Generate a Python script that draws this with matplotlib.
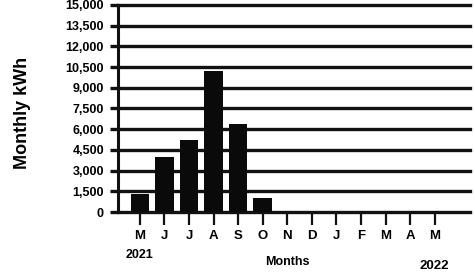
import matplotlib.pyplot as plt
from matplotlib import transforms

months = ["M", "J", "J", "A", "S", "O", "N", "D", "J", "F", "M", "A", "M"]
kwh = [1300, 4000, 5200, 10200, 6400, 1000]
yticks = [0, 1500, 3000, 4500, 6000, 7500, 9000, 10500, 12000, 13500, 15000]
ytick_labels = ["0", "1,500", "3,000", "4,500", "6,000", "7,500", "9,000",
                "10,500", "12,000", "13,500", "15,000"]

plt.rcParams['font.family'] = ['Liberation Sans', 'DejaVu Sans']

fig = plt.figure(figsize=(4.75, 2.75), dpi=100)
ax = fig.add_axes([0.248, 0.229, 0.742, 0.753])

for y in yticks:
    ax.axhline(y, color='#111111', lw=2.4, zorder=1, clip_on=False)

ax.bar(range(len(kwh)), kwh, width=0.75, color='#0a0a0a', zorder=3)

ax.set_xlim(-0.9, 13.45)
ax.set_ylim(0, 15000)

ax.set_yticks(yticks)
ax.set_yticklabels(ytick_labels, fontsize=9, fontweight='bold')
ax.set_xticks(range(len(months)))
ax.set_xticklabels(months, fontsize=9.5, fontweight='bold')

ax.tick_params(axis='y', length=6, width=2.4, pad=4, color='#111111')
ax.tick_params(axis='x', length=9, width=1.6, pad=4, color='#111111')

for s in ['top', 'right', 'bottom']:
    ax.spines[s].set_visible(False)
ax.spines['left'].set_linewidth(2.2)
ax.spines['left'].set_color('#111111')

ax.set_ylabel("Monthly kWh", fontsize=13, fontweight='bold')
ax.yaxis.set_label_coords(-0.245, 0.48)

trans = transforms.blended_transform_factory(ax.transData, ax.transAxes)
ax.text(0, -0.18, "2021", transform=trans, ha='center', va='top',
        fontsize=9, fontweight='bold')
ax.text(6.0, -0.21, "Months", transform=trans, ha='center', va='top',
        fontsize=9, fontweight='bold')
ax.text(12, -0.23, "2022", transform=trans, ha='center', va='top',
        fontsize=9.5, fontweight='bold')

fig.savefig("out.png", dpi=100)
